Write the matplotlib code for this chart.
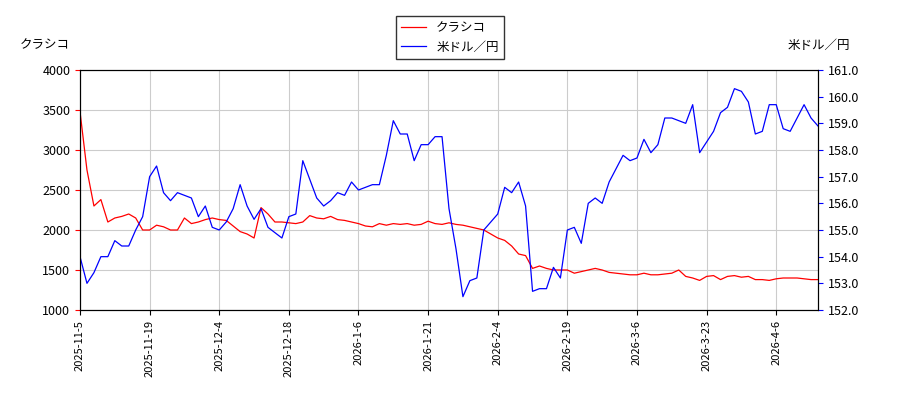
import matplotlib
matplotlib.use("Agg")
import matplotlib.pyplot as plt
plt.rcParams['font.family'] = ['Noto Sans CJK JP', 'DejaVu Sans']

tick_labels = ["2025-11-5","2025-11-19","2025-12-4","2025-12-18","2026-1-6","2026-1-21",
               "2026-2-4","2026-2-19","2026-3-6","2026-3-23","2026-4-6"]
kurashico = [3480,2750,2300,2380,2100,2150,2170,2200,2150,2000,2000,2060,2040,2000,2000,2150,2080,2100,2130,2150,
             2130,2120,2050,1980,1950,1900,2280,2200,2100,2100,2090,2080,2100,2180,2150,2140,2170,2130,2120,2100,
             2080,2050,2040,2080,2060,2080,2070,2080,2060,2070,2110,2080,2070,2090,2070,2060,2040,2020,2000,1950,
             1900,1870,1800,1700,1680,1520,1550,1520,1500,1500,1500,1460,1480,1500,1520,1500,1470,1460,1450,1440,
             1440,1460,1440,1440,1450,1460,1500,1420,1400,1370,1420,1430,1380,1420,1430,1410,1420,1380,1380,1370,
             1390,1400,1400,1400,1390,1380,1380]
usdjpy = [154.0,153.0,153.4,154.0,154.0,154.6,154.4,154.4,155.0,155.5,157.0,157.4,156.4,156.1,156.4,156.3,156.2,155.5,155.9,155.1,
          155.0,155.3,155.8,156.7,155.9,155.4,155.8,155.1,154.9,154.7,155.5,155.6,157.6,156.9,156.2,155.9,156.1,156.4,156.3,156.8,
          156.5,156.6,156.7,156.7,157.8,159.1,158.6,158.6,157.6,158.2,158.2,158.5,158.5,155.8,154.3,152.5,153.1,153.2,155.0,155.3,
          155.6,156.6,156.4,156.8,155.9,152.7,152.8,152.8,153.6,153.2,155.0,155.1,154.5,156.0,156.2,156.0,156.8,157.3,157.8,157.6,
          157.7,158.4,157.9,158.2,159.2,159.2,159.1,159.0,159.7,157.9,158.3,158.7,159.4,159.6,160.3,160.2,159.8,158.6,158.7,159.7,
          159.7,158.8,158.7,159.2,159.7,159.2,158.9]

fig = plt.figure(figsize=(9, 4), dpi=100)
ax = fig.add_axes([80/900, 90/400, 738/900, 240/400])
x = list(range(len(kurashico)))
l1, = ax.plot(x, kurashico, color='red', lw=0.9, label='クラシコ')
ax.set_ylim(1000, 4000)
ax.set_xlim(0, len(x) - 1)
ax.set_xticks(range(0, 10 * len(tick_labels), 10))
ax.set_xticklabels(tick_labels, rotation=90, fontsize=8)
ax.tick_params(axis='y', labelsize=9, colors='red')
ax.tick_params(axis='x', labelsize=8)
ax.grid(True, color='#cccccc', lw=0.8)
ax2 = ax.twinx()
l2, = ax2.plot(range(len(usdjpy)), usdjpy, color='blue', lw=0.9, label='米ドル／円')
ax2.set_ylim(152, 161)
ax2.set_yticks([152 + i for i in range(10)])
ax2.set_yticklabels([f"{152 + i:.1f}" for i in range(10)])
ax2.tick_params(axis='y', labelsize=9, colors='blue')
for a in (ax, ax2):
    for lab in a.get_yticklabels():
        lab.set_color('black')
fig.text(20/900, 1 - 45/400, 'クラシコ', fontsize=9, va='center')
fig.text(850/900, 1 - 45/400, '米ドル／円', fontsize=9, va='center', ha='right')
fig.legend(handles=[l1, l2], loc='upper center', bbox_to_anchor=(0.5, 0.975), fontsize=9,
           fancybox=False, edgecolor='black')
fig.savefig('out.png')
